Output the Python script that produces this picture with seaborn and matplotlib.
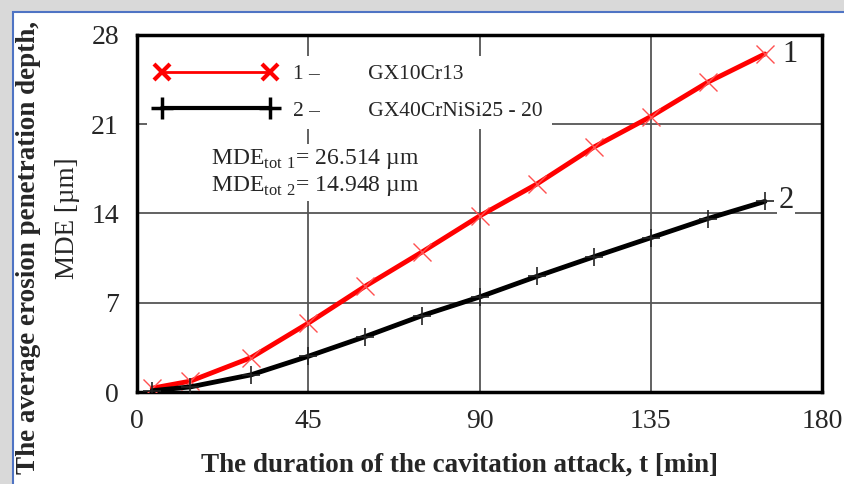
import numpy as np
import pandas as pd
import matplotlib
matplotlib.use("Agg")
from matplotlib import pyplot as plt
from matplotlib.lines import Line2D
from matplotlib.patches import Rectangle
import seaborn as sns

# values
t_min = [4, 14, 30, 45, 60, 75, 90, 105, 120, 135, 150, 165]
mde_1 = [0.3, 0.85, 2.7, 5.4, 8.3, 11.0, 13.8, 16.3, 19.2, 21.6, 24.3, 26.514]
mde_2 = [0.1, 0.4, 1.35, 2.8, 4.35, 6.0, 7.45, 9.06, 10.6, 12.1, 13.6, 14.948]
x_ticks = [0, 45, 90, 135, 180]
y_ticks = [0, 7, 14, 21, 28]
names = ['GX10Cr13', 'GX40CrNiSi25 - 20']

df1 = pd.DataFrame({'t': t_min, 'mde': mde_1})
df2 = pd.DataFrame({'t': t_min, 'mde': mde_2})

sns.set_style("white")
plt.rcParams['font.family'] = ['Liberation Serif', 'DejaVu Serif']
plt.rcParams['mathtext.fontset'] = 'custom'
plt.rcParams['mathtext.rm'] = 'Liberation Serif'

fig = plt.figure(figsize=(8.44, 4.84), dpi=100)

# window-like frame: gray shadow and blue border
fig.patches.append(Rectangle((0, 0), 1, 1, transform=fig.transFigure,
                             facecolor='#d9d9d9', edgecolor='none', zorder=-3))
fig.patches.append(Rectangle((13 / 844, -0.05), 1.0, 1 - 12 / 484 + 0.05,
                             transform=fig.transFigure, facecolor='white',
                             edgecolor='#4f74c4', linewidth=1.5, zorder=-2))

ax = fig.add_axes([137 / 844, 1 - 392 / 484, (822 - 137) / 844, (392 - 35) / 484])
ax.set_facecolor('white')

sns.lineplot(data=df1, x='t', y='mde', ax=ax, color='#ff0000', linewidth=3.5,
             marker='x', markersize=13, markeredgewidth=1.0,
             markeredgecolor='#ff5050', zorder=4)
sns.lineplot(data=df2, x='t', y='mde', ax=ax, color='black', linewidth=3.5,
             marker='+', markersize=13, markeredgewidth=1.2,
             markeredgecolor='#222222', zorder=4)

ax.set_xlim(0, 180)
ax.set_ylim(0, 28)
ax.set_xticks(x_ticks)
ax.set_yticks(y_ticks)
ax.tick_params(axis='x', labelsize=20, length=0, pad=12)
ax.tick_params(axis='y', labelsize=20, length=0, pad=13)
ax.grid(True, color='#555555', linewidth=1.3)
ax.set_axisbelow(True)
for s in ax.spines.values():
    s.set_linewidth(2.5)
    s.set_color('black')
ax.set_xlabel('')
ax.set_ylabel('')
fig.text(459 / 844, 1 - 465 / 484, 'The duration of the cavitation attack, t [min]',
         fontsize=19.5, fontweight='bold', ha='center', va='center')

# legend with markers at both ends
handles = [
    Line2D([], [], color='#ff0000', linewidth=2, marker='x', markersize=12,
           markeredgewidth=3),
    Line2D([], [], color='black', linewidth=3, marker='+', markersize=16,
           markeredgewidth=2.5),
]
labels = ['1 –         ' + names[0], '2 –         ' + names[1]]
leg = ax.legend(handles, labels, loc='upper left', bbox_to_anchor=(0.005, 0.96),
                numpoints=2, handlelength=5.6, fontsize=15.5, frameon=True,
                borderaxespad=0.3, labelspacing=0.75, handletextpad=0.8)
leg.get_frame().set_facecolor('white')
leg.get_frame().set_edgecolor('none')
leg.get_frame().set_alpha(1)

ax.text(19.5, 17.2, 'MDE$_{\\mathrm{tot\\ 1}}$= 26.514 µm\nMDE$_{\\mathrm{tot\\ 2}}$= 14.948 µm',
        fontsize=17, ha='left', va='center', linespacing=1.2,
        bbox=dict(facecolor='white', edgecolor='none', pad=2), zorder=5)

# curve numbers at the ends
ax.text(169.5, 26.5, '1', fontsize=22, ha='left', va='center',
        bbox=dict(facecolor='white', edgecolor='none', pad=1), zorder=5)
ax.text(168.5, 15.0, '2', fontsize=22, ha='left', va='center',
        bbox=dict(facecolor='white', edgecolor='none', pad=1), zorder=5)

# y label: bold first line, normal second line
fig.text(29 / 844, 1 - 248 / 484, 'The average erosion penetration depth,',
         rotation=90, fontsize=19.5, fontweight='bold', ha='center', va='center')
fig.text(67 / 844, 1 - 218 / 484, 'MDE [µm]', rotation=90, fontsize=19.5,
         ha='center', va='center')

fig.savefig('out.png', dpi=100)
